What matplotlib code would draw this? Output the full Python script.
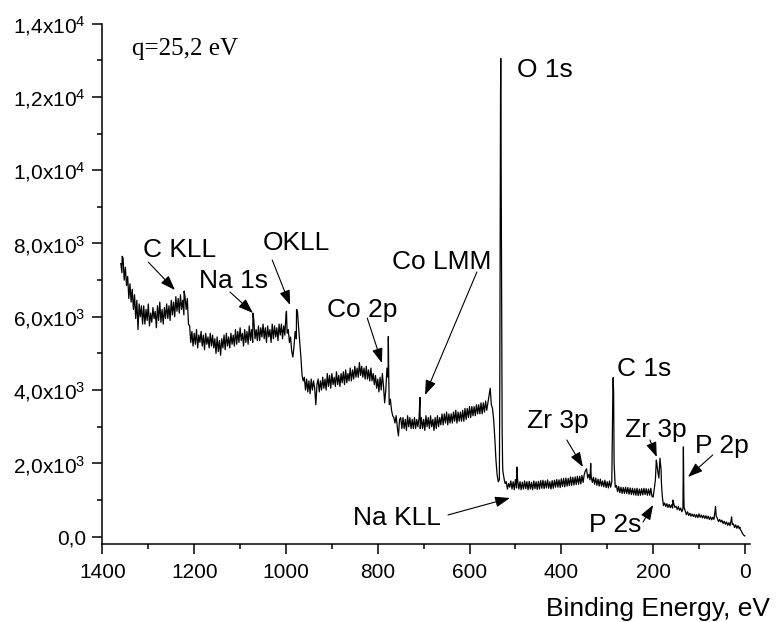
import numpy as np
import matplotlib
matplotlib.use("Agg")
import matplotlib.pyplot as plt
from matplotlib.ticker import MultipleLocator

plt.rcParams['font.family'] = ['Liberation Sans', 'DejaVu Sans']
plt.rcParams['mathtext.default'] = 'regular'

# ---------------- data ----------------
# survey spectrum on a 2.5 eV grid, from 1360 eV down to 0 eV
grid_counts = [
    7450, 7200, 7600, 7000, 7350, 6850, 7100, 6500, 6900, 6400, 6750, 6200, 6600, 5950, 6450, 5650, 6350, 6000, 6300, 5800,  # 1360-1312.5
    6300, 5800, 6200, 5900, 6350, 5750, 6100, 5850, 6250, 5950, 6150, 5700, 6300, 5900, 6400, 5850, 6200, 5800, 6250, 5950,  # 1310-1262.5
    6350, 5950, 6300, 5900, 6450, 6050, 6400, 6000, 6550, 6150, 6500, 6100, 6600, 6200, 6450, 6050, 6550, 6200, 6500, 5800,  # 1260-1212.5
    5750, 5300, 5600, 5200, 5550, 5250, 5650, 5150, 5500, 5300, 5600, 5200, 5500, 5100, 5550, 5250, 5450, 5150, 5550, 5200,  # 1210-1162.5
    5500, 5150, 5400, 5000, 5450, 5050, 5350, 4950, 5400, 5150, 5500, 5100, 5550, 5200, 5450, 5150, 5550, 5250, 5500, 5200,  # 1160-1112.5
    5650, 5250, 5600, 5300, 5700, 5350, 5550, 5200, 5650, 5300, 5600, 5250, 5750, 5350, 5650, 5300, 5900, 5400, 5650, 5350,  # 1110-1062.5
    5750, 5350, 5700, 5450, 5800, 5400, 5700, 5300, 5750, 5450, 5650, 5300, 5800, 5400, 5750, 5450, 5700, 5350, 5800, 5500,  # 1060-1012.5
    5800, 5400, 5750, 5500, 6050, 5550, 5650, 5300, 5450, 5050, 4900, 5200, 5600, 5400, 6150, 5700, 5300, 4900, 4400, 4250,  # 1010-962.5
    4350, 4000, 4300, 3950, 4250, 3900, 4300, 4000, 4250, 4050, 3600, 4150, 4300, 3950, 4250, 4000, 4350, 4050, 4300, 4000,  # 960-912.5
    4450, 4100, 4400, 4050, 4450, 4150, 4350, 4100, 4500, 4150, 4400, 4100, 4450, 4200, 4500, 4150, 4550, 4200, 4450, 4250,  # 910-862.5
    4600, 4250, 4550, 4300, 4650, 4350, 4600, 4350, 4750, 4400, 4650, 4350, 4600, 4300, 4650, 4300, 4550, 4250, 4600, 4250,  # 860-812.5
    4450, 4150, 4400, 4050, 4300, 3950, 4350, 4000, 4450, 4100, 3650, 4000, 4600, 4350, 3600, 3750, 3450, 3300, 3250, 3100,  # 810-762.5
    3300, 3000, 2750, 3200, 3250, 2950, 3250, 2950, 3200, 2900, 3300, 3000, 3250, 2950, 3200, 2950, 3250, 2950, 3200, 3000,  # 760-712.5
    3250, 2950, 3250, 2950, 3200, 2900, 3300, 3000, 3250, 2950, 3300, 3000, 3200, 2900, 3250, 2950, 3300, 3000, 3250, 3050,  # 710-662.5
    3350, 3050, 3350, 3100, 3400, 3050, 3350, 3100, 3350, 3100, 3400, 3150, 3450, 3100, 3400, 3150, 3400, 3150, 3450, 3150,  # 660-612.5
    3500, 3200, 3500, 3250, 3550, 3250, 3550, 3300, 3550, 3300, 3600, 3350, 3600, 3350, 3650, 3350, 3650, 3400, 3700, 3450,  # 610-562.5
    3650, 3850, 4050, 3600, 3500, 3200, 2700, 2100, 1700, 1500, 1550, 12000, 6000, 1800, 1600, 1450, 1500, 1300, 1450, 1350,  # 560-512.5
    1520, 1300, 1500, 1280, 1560, 1330, 1520, 1300, 1500, 1280, 1490, 1300, 1520, 1310, 1500, 1280, 1510, 1300, 1480, 1280,  # 510-462.5
    1520, 1310, 1500, 1290, 1510, 1300, 1530, 1320, 1540, 1310, 1520, 1330, 1550, 1320, 1500, 1300, 1530, 1320, 1540, 1350,  # 460-412.5
    1560, 1350, 1550, 1340, 1580, 1370, 1590, 1360, 1600, 1380, 1590, 1390, 1630, 1400, 1620, 1410, 1630, 1420, 1650, 1430,  # 410-362.5
    1650, 1440, 1670, 1480, 1700, 1800, 1850, 1600, 1700, 1550, 1650, 1480, 1620, 1430, 1600, 1400, 1570, 1380, 1570, 1380,  # 360-312.5
    1520, 1360, 1540, 1340, 1500, 1330, 1520, 1350, 1500, 4200, 2000, 1350, 1400, 1230, 1370, 1200, 1350, 1180, 1340, 1180,  # 310-262.5
    1350, 1180, 1340, 1160, 1330, 1150, 1320, 1140, 1310, 1130, 1320, 1120, 1300, 1130, 1310, 1140, 1320, 1150, 1310, 1130,  # 260-212.5
    1300, 1130, 1320, 1100, 1080, 1300, 1550, 2050, 1800, 1600, 2140, 1800, 1100, 850, 920, 820, 900, 800, 880, 790,         # 210-162.5
    870, 780, 900, 800, 830, 740, 820, 720, 780, 680, 750, 800, 700, 600, 680, 580, 640, 560, 620, 550,                      # 160-112.5
    610, 530, 600, 520, 620, 530, 590, 510, 580, 500, 570, 490, 560, 470, 540, 460, 530, 470, 700, 560,                      # 110-62.5
    500, 410, 470, 400, 450, 360, 420, 340, 400, 310, 380, 300, 450, 330, 350, 250, 320, 230, 300, 220,                      # 60-12.5
    200, 150, 80, 40, 20,                                                                                                    # 10-0
]
grid_start_ev = 1360.0
grid_step_ev = 2.5

# sharp features between grid points
peak_ev = [1357, 1222, 1072, 999, 977, 777, 776, 708, 534, 533, 532,
           531, 529, 528, 497, 336, 288, 287, 286, 193, 188, 182, 157, 134,
           133, 64, 29, 11]
peak_counts = [7650, 6700, 6100, 6150, 6200, 5460, 4300, 3800, 4500,
               9600, 13050, 9600, 3000, 2000, 1900, 2000, 3600, 4340, 3900,
               2090, 1650, 1500, 1000, 2450, 1100, 820, 540, 260]

x_tick_values = [1400, 1200, 1000, 800, 600, 400, 200, 0]
x_tick_labels = ['1400', '1200', '1000', '800', '600', '400', '200', '0']
y_tick_values = [0, 2000, 4000, 6000, 8000, 10000, 12000, 14000]
y_tick_labels = ['0,0', r'2,0x10$^{3}$', r'4,0x10$^{3}$', r'6,0x10$^{3}$',
                 r'8,0x10$^{3}$', r'1,0x10$^{4}$', r'1,2x10$^{4}$',
                 r'1,4x10$^{4}$']

# ---------------- build spectrum ----------------
assert len(grid_counts) == 545, len(grid_counts)
grid_ev = grid_start_ev - grid_step_ev * np.arange(len(grid_counts))
energy = np.concatenate([grid_ev, np.array(peak_ev, dtype=float)])
counts = np.concatenate([np.array(grid_counts, dtype=float),
                         np.array(peak_counts, dtype=float)])
order = np.argsort(-energy, kind='stable')
energy = energy[order]
counts = counts[order]

fig = plt.figure(figsize=(7.76, 6.22), dpi=100)
ax = fig.add_axes([0.132, 0.1254, 0.835, 0.8367])

ax.plot(energy, counts, color='black', lw=0.9)

ax.set_xlim(1400, -12)
ax.set_ylim(-200, 14000)
ax.set_xticks(x_tick_values)
ax.set_xticklabels(x_tick_labels)
ax.set_yticks(y_tick_values)
ax.set_yticklabels(y_tick_labels)
ax.xaxis.set_minor_locator(MultipleLocator(100))
ax.yaxis.set_minor_locator(MultipleLocator(1000))
ax.tick_params(which='major', direction='out', length=7, width=1.1,
               labelsize=15)
ax.tick_params(axis='x', which='major', pad=7)
ax.tick_params(axis='y', which='major', pad=5)
ax.tick_params(which='minor', direction='out', length=3.5, width=1.1)
for side in ['top', 'right']:
    ax.spines[side].set_visible(False)
for side in ['left', 'bottom']:
    ax.spines[side].set_linewidth(1.1)

fig.text(770 / 776, 1 - 616 / 622, 'Binding Energy, eV', fontsize=19,
         ha='right', va='baseline')

ax.text(1335, 13140, 'q=25,2 eV', fontsize=18, family='Liberation Serif',
        ha='left', va='baseline')

labels = [
    ('C KLL', 1311, 7630),
    ('Na 1s', 1189, 6780),
    ('OKLL', 1050, 7820),
    ('Co 2p', 911, 5990),
    ('Co LMM', 769, 7300),
    ('O 1s', 497, 12540),
    ('C 1s', 279, 4380),
    ('Zr 3p', 475, 2965),
    ('Zr 3p', 261, 2720),
    ('P 2p', 109, 2283),
    ('P 2s', 340, 128),
    ('Na KLL', 854, 319),
]
for txt, lx, ly in labels:
    ax.text(lx, ly, txt, fontsize=19, ha='left', va='baseline')

arrows = [
    ((1300, 7490), (1242, 6730)),
    ((1122, 6676), (1072, 6103)),
    ((1030, 7548), (991, 6320)),
    ((823, 5966), (791, 4738)),
    ((584, 7221), (697, 3866)),
    ((388, 2638), (353, 1902)),
    ((207, 2638), (192, 2174)),
    ((70, 2229), (124, 1629)),
    ((222, 401), (200, 865)),
    ((647, 592), (512, 1056)),
]
for (sx, sy), (ex, ey) in arrows:
    ax.annotate('', xy=(ex, ey), xytext=(sx, sy),
                arrowprops=dict(arrowstyle='-|>,head_length=0.5,head_width=0.18',
                                color='black', lw=0.8, mutation_scale=18,
                                shrinkA=0, shrinkB=0))

fig.savefig('out.png', dpi=100)
